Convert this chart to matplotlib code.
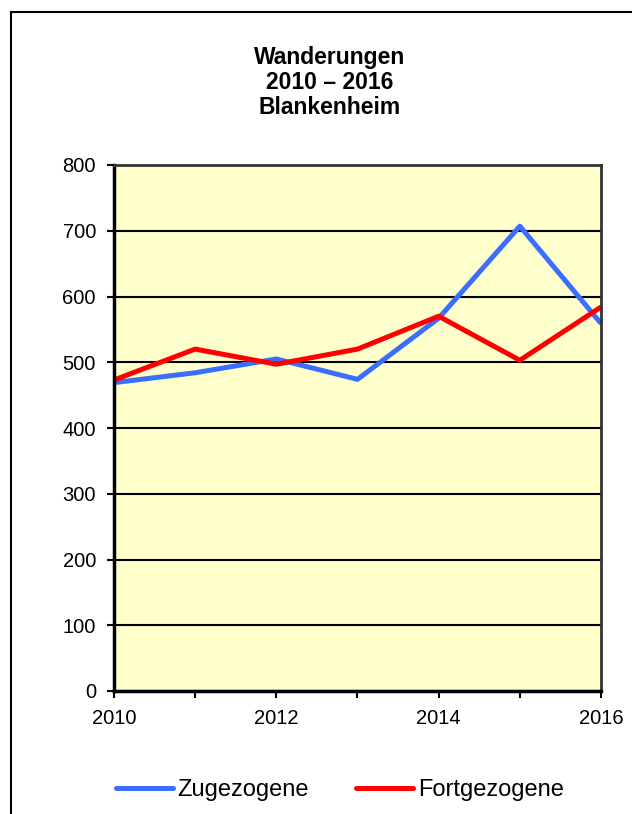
import matplotlib.pyplot as plt
from matplotlib.patches import Rectangle

plt.rcParams['font.family'] = ['Liberation Sans', 'DejaVu Sans']

years = [2010, 2011, 2012, 2013, 2014, 2015, 2016]
zugezogene = [469, 484, 505, 474, 567, 707, 559]
fortgezogene = [473, 520, 497, 520, 570, 503, 584]
y_ticks = [0, 100, 200, 300, 400, 500, 600, 700, 800]
x_labels = ["2010", "", "2012", "", "2014", "", "2016"]

fig = plt.figure(figsize=(6.32, 8.14), dpi=100)

# outer chart frame (runs off the right and bottom edge)
fig.patches.append(Rectangle((11 / 632, -0.1), 1.0, (814 - 12) / 814 + 0.1,
                             transform=fig.transFigure, fill=False,
                             edgecolor="black", linewidth=1.5))

ax = fig.add_axes([114 / 632, 1 - 691 / 814, (601 - 114) / 632, (691 - 165) / 814])
ax.set_facecolor("#FFFFCC")

ax.plot(years, zugezogene, color="#3A6EFF", linewidth=3.6, label="Zugezogene",
        solid_capstyle="butt")
ax.plot(years, fortgezogene, color="#FF0000", linewidth=3.6, label="Fortgezogene",
        solid_capstyle="butt")

ax.set_xlim(2010, 2016)
ax.set_ylim(0, 800)
ax.set_xticks(years)
ax.set_xticklabels(x_labels)
ax.set_yticks(y_ticks)
ax.yaxis.grid(True, color="black", linewidth=1.5)
ax.set_axisbelow(True)
ax.tick_params(axis="both", direction="out", length=5, width=1.5,
               labelsize=14.5, colors="black", pad=8)

for side in ["left", "bottom"]:
    ax.spines[side].set_linewidth(2.5)
    ax.spines[side].set_color("black")
for side in ["top", "right"]:
    ax.spines[side].set_linewidth(2)
    ax.spines[side].set_color("#333333")

fig.text(330 / 632, 1 - 46 / 814, "Wanderungen\n2010 – 2016\nBlankenheim",
         ha="center", va="top", fontsize=16.5, fontweight="bold",
         linespacing=1.1)

leg = fig.legend(loc="center", bbox_to_anchor=(340 / 632, 1 - 790 / 814), ncol=2,
                 frameon=False, fontsize=17, handlelength=2.4, handletextpad=0.2,
                 columnspacing=2.0)
for line in leg.get_lines():
    line.set_solid_capstyle("round")

plt.savefig("out.png", dpi=100)
